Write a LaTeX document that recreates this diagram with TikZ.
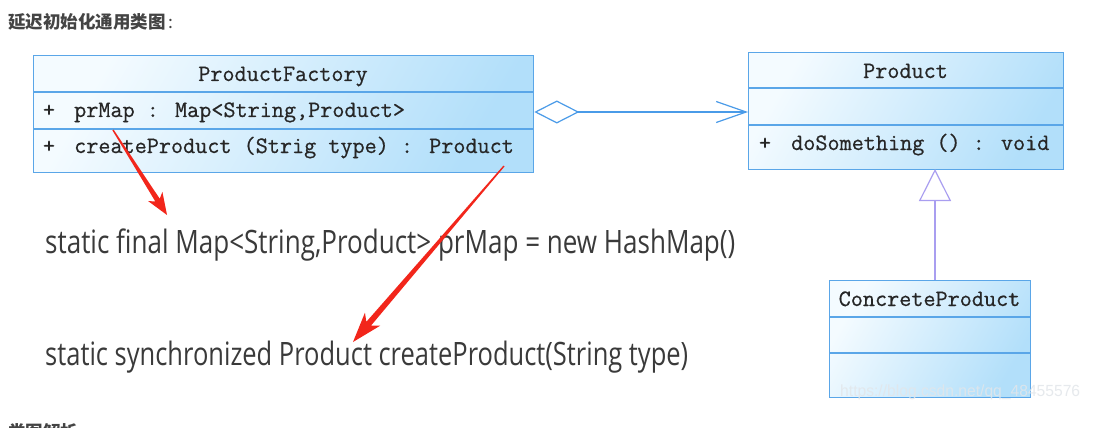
\documentclass[tikz,border=0pt]{standalone}
\usepackage{fontspec}
\usetikzlibrary{arrows.meta,calc}
\newfontfamily\cjk{Noto Sans CJK SC}
\newfontfamily\bodysans{Open Sans}
\newfontfamily\wmfont{Liberation Sans}
\newfontfamily\umlmono{Latin Modern Mono}[FakeBold=0.6]
\definecolor{boxborder}{HTML}{5AA6E8}
\definecolor{boxlight}{HTML}{F4FBFF}
\definecolor{boxblue}{HTML}{B2DFFA}
\definecolor{aggblue}{HTML}{4A9BE8}
\definecolor{genpurple}{HTML}{A99EF0}
\definecolor{redarr}{HTML}{F2261B}
\definecolor{txt}{HTML}{3A3A3A}
\definecolor{titletxt}{HTML}{444444}
\definecolor{wmgray}{HTML}{E2E6EA}
\newcommand\fitline[3]{\resizebox{#1}{#2}{\smash{#3}\vphantom{M}}}
\newcommand\redarrow[5]{%
  \path ($(#2)!#3!(#1)$) coordinate (hb)
        ($(#2)!0.8*#3!(#1)$) coordinate (hj);
  \path ($(hb)!#4!90:(#2)$) coordinate (h1)
        ($(hb)!#4!-90:(#2)$) coordinate (h2)
        ($(hj)!#5!90:(#2)$) coordinate (b1)
        ($(hj)!#5!-90:(#2)$) coordinate (b2)
        ($(#1)!0.7pt!90:(#2)$) coordinate (s1)
        ($(#1)!0.7pt!-90:(#2)$) coordinate (s2);
  \fill[redarr] (s1) -- (b1) -- (h1) -- (#2) -- (h2) -- (b2) -- (s2) -- cycle;}
\tikzset{
  umlbox/.style={draw=boxborder, line width=1.3pt, rectangle, inner sep=0,
    left color=boxlight, right color=boxblue, shading angle=60, anchor=north west},
  divider/.style={draw=boxborder, line width=1.3pt},
  mono/.style={font=\umlmono\fontsize{23.5}{26}\selectfont, text=black!85, inner sep=0},
  code/.style={text=txt, inner sep=0, anchor=base west},
  agg/.style={draw=aggblue, line width=1.2pt,
    {Diamond[open,length=45pt,width=23pt,fill=white]}-{Straight Barb[length=30pt,width=21pt]}},
  gen/.style={draw=genpurple, line width=1.2pt,
    -{Triangle[open,length=32pt,width=32pt,fill=white]}},
}
\begin{document}
\begin{tikzpicture}[x=1pt,y=-1pt]
\useasboundingbox (0,0) rectangle (1109,428);
\fill[white] (0,0) rectangle (1109,428);

% heading
\node[anchor=base west, inner sep=0, text=titletxt,
  font=\cjk\bfseries\fontsize{17.5}{20}\selectfont] (title) at (8,28.5) {延迟初始化通用类图{\mdseries\,:}};

% ProductFactory
\node[umlbox, minimum width=500pt, minimum height=117pt] (pf) at (33,55) {};
\draw[divider] ([yshift=-37pt]pf.north west) -- ([yshift=-37pt]pf.north east);
\draw[divider] ([yshift=-74pt]pf.north west) -- ([yshift=-74pt]pf.north east);
\node[mono, anchor=base] (pfname) at (283,81) {ProductFactory};
\node[mono, anchor=base] (pfp1) at (49,117) {+};
\node[mono, anchor=base west] (pfattr) at (74,117) {prMap : Map<String,Product>};
\node[mono, anchor=base] (pfp2) at (49,153) {+};
\node[mono, anchor=base west] (pfop) at (74,153) {createProduct (Strig type) : Product};

% Product
\node[umlbox, minimum width=315pt, minimum height=117pt] (pr) at (748,52) {};
\draw[divider] ([yshift=-36pt]pr.north west) -- ([yshift=-36pt]pr.north east);
\draw[divider] ([yshift=-73pt]pr.north west) -- ([yshift=-73pt]pr.north east);
\node[mono, anchor=base] (prname) at (905.5,78) {Product};
\node[mono, anchor=base] (prp) at (765,150) {+};
\node[mono, anchor=base west] (prop) at (791,150) {doSomething () : void};

% ConcreteProduct
\node[umlbox, minimum width=201pt, minimum height=117pt] (cp) at (829,280) {};
\draw[divider] ([yshift=-37pt]cp.north west) -- ([yshift=-37pt]cp.north east);
\draw[divider] ([yshift=-73pt]cp.north west) -- ([yshift=-73pt]cp.north east);
\node[mono, anchor=base] (cpname) at (929.5,306) {ConcreteProduct};

% relations
\coordinate (aggS) at (pf.east |- 0,112);
\coordinate (aggT) at (pr.west |- 0,112);
\draw[agg] (aggS) -- (aggT);
\coordinate (genS) at (935,280);
\coordinate (genT) at (935,169);
\draw[gen] (genS) -- (genT);

% code lines
\node[code] (code1) at (45,253)
  {\fitline{690pt}{22pt}{\bodysans static final Map<String,Product> prMap = new HashMap()}};
\node[code] (code2) at (45,365)
  {\fitline{643pt}{22pt}{\bodysans static synchronized Product createProduct(String type)}};

% red arrows
\coordinate (r1s) at (113,130);
\coordinate (r1t) at (167,215);
\redarrow{r1s}{r1t}{22pt}{8.5pt}{2.6pt}
\coordinate (r2s) at (504,166);
\coordinate (r2t) at (353,342);
\redarrow{r2s}{r2t}{30pt}{10pt}{3pt}

% watermark
\node[anchor=base west, inner sep=0, text=wmgray, opacity=0.85] (wm) at (840,396)
  {\fitline{240pt}{11pt}{\wmfont https://blog.csdn.net/qq\_48455576}};

% next heading, cut off by the page edge as in the reference
\node[anchor=base west, inner sep=0, text=titletxt,
  font=\cjk\bfseries\fontsize{17.5}{20}\selectfont] (next) at (8,438.5) {类图解析};
\end{tikzpicture}
\end{document}
